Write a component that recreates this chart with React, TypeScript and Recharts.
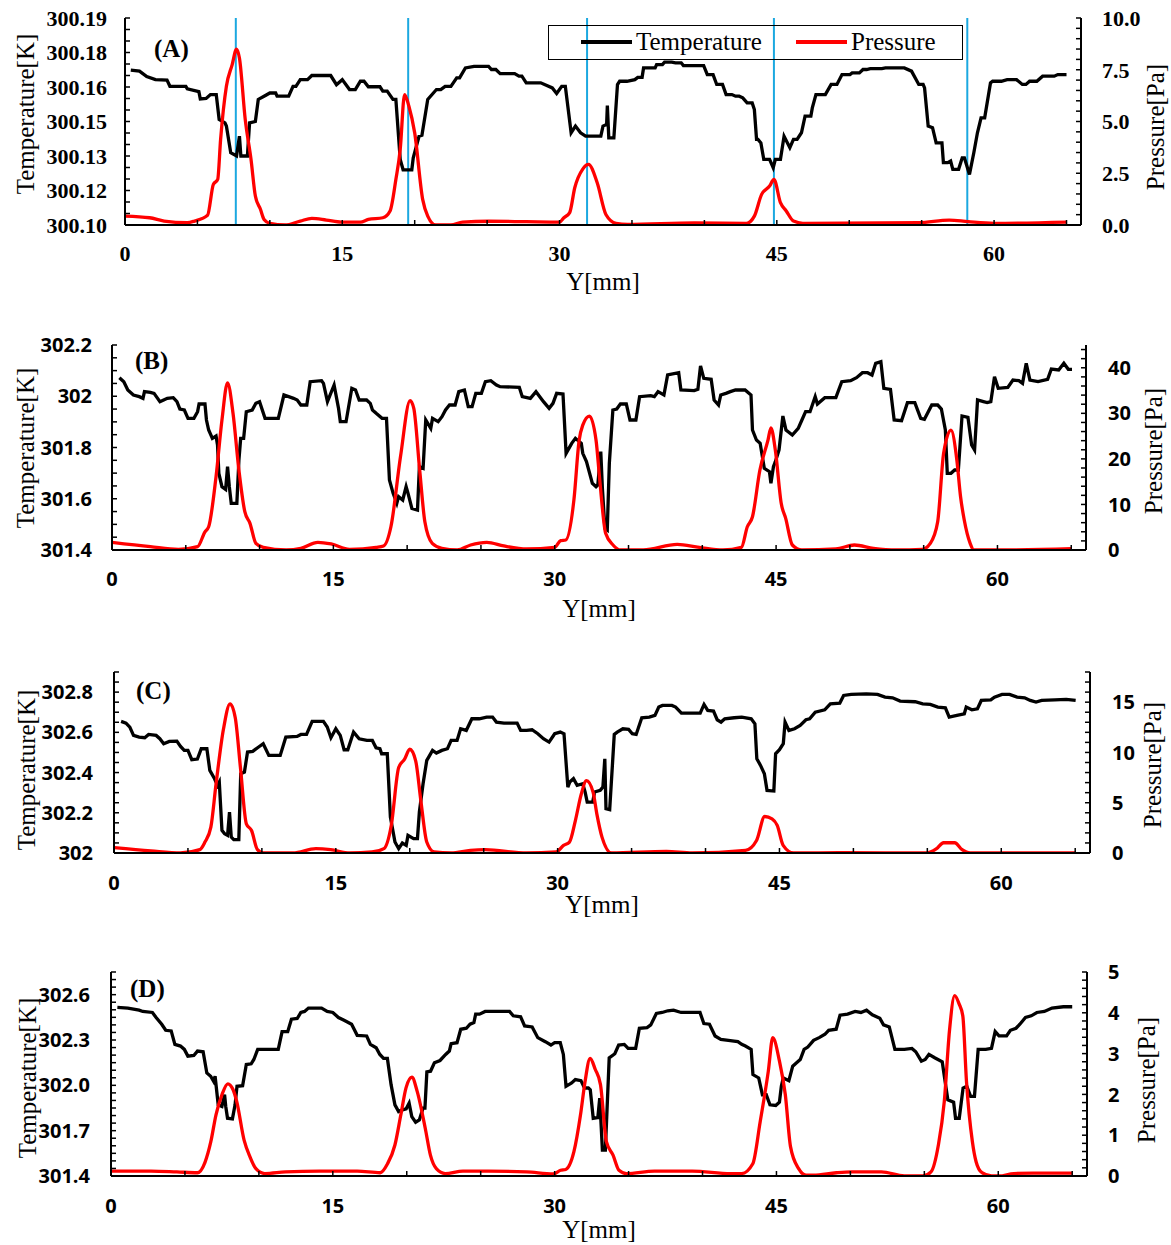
import { ComposedChart, Line, ReferenceLine, XAxis, YAxis } from "recharts";

type P = [number, number];

// Y[mm] position, value
const tempA: P[] = [
  [0.4, 300.1673], [1.0, 300.1669], [1.5, 300.1645], [2.1, 300.1632], [2.9, 300.163], [3.1, 300.1603],
  [4.2, 300.1603], [4.3, 300.1592], [5.1, 300.158], [5.2, 300.1548], [5.6, 300.155], [5.9, 300.1567],
  [6.3, 300.1567], [6.5, 300.1459], [6.9, 300.1444], [7.0, 300.143], [7.3, 300.1314], [7.7, 300.13],
  [7.9, 300.1386], [8.0, 300.13], [8.45, 300.13], [8.6, 300.1444], [9.0, 300.145], [9.2, 300.1546],
  [9.6, 300.156], [10.0, 300.1574], [10.4, 300.1574], [10.5, 300.156], [11.3, 300.156], [11.6, 300.1603],
  [11.8, 300.1603], [12.1, 300.1632], [12.6, 300.1632], [12.9, 300.165], [14.2, 300.165], [14.6, 300.161],
  [15.0, 300.1632], [15.5, 300.1589], [15.9, 300.1589], [16.25, 300.1625], [16.5, 300.1625], [16.8, 300.1601],
  [17.6, 300.1601], [17.8, 300.1582], [18.1, 300.1582], [18.5, 300.1546], [18.7, 300.1546], [19.0, 300.1285],
  [19.2, 300.124], [19.8, 300.124], [19.9, 300.1292], [20.3, 300.1386], [20.5, 300.139], [20.9, 300.1546],
  [21.5, 300.1589], [21.8, 300.1589], [22.1, 300.1603], [22.5, 300.1603], [22.9, 300.164], [23.1, 300.164],
  [23.5, 300.1683], [24.1, 300.169], [25.1, 300.169], [25.3, 300.1676], [25.6, 300.1676], [25.9, 300.1658],
  [26.9, 300.1658], [27.2, 300.1647], [27.4, 300.1647], [27.7, 300.1618], [28.7, 300.1618], [29.5, 300.1596],
  [29.8, 300.1572], [30.15, 300.1603], [30.4, 300.1603], [30.8, 300.1401], [31.1, 300.143], [31.45, 300.1401],
  [31.8, 300.1386], [32.85, 300.1386], [33.0, 300.143], [33.25, 300.1437], [33.3, 300.1519], [33.4, 300.1379],
  [33.75, 300.1379], [34.0, 300.1611], [34.15, 300.1625], [34.65, 300.1625], [35.2, 300.1632], [35.4, 300.1642],
  [35.7, 300.1642], [35.8, 300.1683], [36.6, 300.1683], [36.7, 300.1697], [37.1, 300.1697], [37.25, 300.1708],
  [37.75, 300.1708], [38.0, 300.1705], [38.4, 300.1705], [38.55, 300.1693], [39.95, 300.1693], [40.2, 300.1654],
  [40.6, 300.1654], [40.85, 300.1611], [41.25, 300.1611], [41.5, 300.1567], [41.9, 300.1567], [42.15, 300.156],
  [42.4, 300.156], [42.65, 300.1553], [42.95, 300.1531], [43.3, 300.1531], [43.45, 300.1502], [43.6, 300.1372],
  [43.7, 300.1372], [43.9, 300.1357], [44.1, 300.1285], [44.5, 300.1285], [44.75, 300.1249], [44.9, 300.1285],
  [45.25, 300.1285], [45.5, 300.1386], [45.9, 300.1336], [46.15, 300.1372], [46.4, 300.1372], [46.7, 300.1401],
  [46.95, 300.1473], [47.35, 300.1473], [47.45, 300.1509], [47.7, 300.1567], [48.35, 300.1567], [48.75, 300.1611],
  [49.15, 300.1611], [49.5, 300.1654], [50.05, 300.1654], [50.2, 300.1661], [50.7, 300.1661], [50.95, 300.1676],
  [51.2, 300.1676], [51.45, 300.168], [52.25, 300.168], [52.5, 300.1683], [53.8, 300.1683], [54.3, 300.1669],
  [54.8, 300.1611], [55.1, 300.1611], [55.2, 300.1596], [55.45, 300.143], [55.75, 300.1423], [56.0, 300.1357],
  [56.4, 300.1357], [56.5, 300.1271], [56.8, 300.1271], [57.0, 300.1278], [57.15, 300.1242], [57.55, 300.1242],
  [57.8, 300.1292], [57.95, 300.1292], [58.3, 300.122], [58.6, 300.1314], [58.85, 300.1401], [59.1, 300.1466],
  [59.35, 300.1466], [59.75, 300.1618], [59.9, 300.1625], [60.5, 300.1625], [60.9, 300.1632], [61.55, 300.1632],
  [61.95, 300.1611], [62.2, 300.1611], [62.45, 300.1625], [62.95, 300.1625], [63.35, 300.1647], [64.15, 300.1647],
  [64.4, 300.1654], [65.0, 300.1654],
];
const presA: P[] = [
  [0, 0.43], [1.7, 0.35], [2.7, 0.19], [4.3, 0.11], [4.8, 0.19], [5.7, 0.47], [6.1, 1.96], [6.4, 2.2],
  [6.6, 4.13], [7.0, 6.7], [7.4, 7.75], [7.7, 8.5], [7.9, 8.07], [8.3, 5.1], [8.7, 3.17], [9.0, 1.4],
  [9.35, 0.76], [9.6, 0.27], [10.0, 0.08], [11.05, 0.0], [12.1, 0.19], [12.9, 0.32], [13.9, 0.24], [14.95, 0.14],
  [16.25, 0.14], [16.8, 0.27], [17.8, 0.35], [18.3, 0.68], [18.7, 2.2], [19.0, 3.65], [19.3, 6.3], [19.6, 5.74],
  [20.0, 4.45], [20.55, 1.24], [20.9, 0.43], [21.45, 0.0], [22.5, 0.0], [23.3, 0.14], [25.1, 0.18], [27.7, 0.16],
  [30.0, 0.14], [30.3, 0.35], [30.7, 0.6], [31.05, 1.8], [31.6, 2.7], [32.0, 2.93], [32.6, 2.04], [33.2, 0.51],
  [33.9, 0.08], [34.7, 0.03], [39.3, 0.1], [42.9, 0.08], [43.45, 0.43], [43.95, 1.48], [44.5, 1.88], [44.8, 2.2],
  [45.25, 1.08], [45.65, 0.68], [46.15, 0.19], [46.8, 0.08], [54.8, 0.11], [56.9, 0.24], [58.2, 0.16], [60.0, 0.08],
  [65.0, 0.14],
];
const sectionsA = [7.65, 19.55, 31.9, 44.8, 58.15];

const tempB: P[] = [
  [0.5, 302.0725], [0.8, 302.0569], [1.07, 302.0244], [1.45, 302.0049], [1.85, 301.9984], [2.1, 301.9919],
  [2.2, 302.0179], [2.6, 302.0153], [2.85, 302.0114], [3.25, 301.9789], [3.5, 301.9854], [3.75, 301.9919],
  [4.15, 301.9945], [4.4, 301.9789], [4.6, 301.9502], [4.9, 301.9463], [5.15, 301.9138], [5.55, 301.9138],
  [5.8, 301.9398], [5.9, 301.9698], [6.3, 301.9698], [6.4, 301.9073], [6.55, 301.8683], [6.8, 301.8358],
  [7.05, 301.8449], [7.15, 301.8098], [7.24, 301.6992], [7.45, 301.6472], [7.7, 301.6367], [7.83, 301.7252],
  [7.95, 301.6472], [8.08, 301.5821], [8.46, 301.5821], [8.6, 301.7512], [8.72, 301.8358], [8.92, 301.8358],
  [9.1, 301.9398], [9.5, 301.9463], [9.75, 301.9724], [10.0, 301.9789], [10.37, 301.9138], [11.27, 301.9138],
  [11.65, 302.0049], [12.3, 301.9919], [12.55, 301.9854], [12.8, 301.9658], [13.2, 301.9658], [13.43, 302.0569],
  [14.2, 302.0608], [14.33, 302.0504], [14.6, 301.9789], [15.05, 302.0439], [15.35, 301.9528], [15.47, 301.9008],
  [15.86, 301.9008], [16.25, 302.0309], [16.5, 302.0244], [16.75, 301.9854], [17.25, 301.9854], [17.5, 301.9724],
  [17.65, 301.9463], [17.9, 301.9333], [18.3, 301.9138], [18.6, 301.9138], [18.8, 301.6732], [19.05, 301.6211],
  [19.3, 301.5821], [19.42, 301.6081], [19.7, 301.5951], [19.93, 301.6472], [20.06, 301.6211], [20.32, 301.5626],
  [20.7, 301.5561], [20.83, 301.7252], [21.08, 301.7187], [21.26, 301.9073], [21.6, 301.8748], [21.72, 301.9138],
  [22.1, 301.9008], [22.36, 301.9203], [22.6, 301.9463], [22.87, 301.9658], [23.25, 301.9658], [23.5, 302.0179],
  [23.88, 302.0244], [24.14, 301.9593], [24.4, 301.9593], [24.65, 302.0114], [25.03, 302.0114], [25.3, 302.0569],
  [25.67, 302.0608], [26.05, 302.0439], [26.3, 302.0374], [27.6, 302.0348], [27.8, 301.9984], [28.35, 301.9919],
  [28.73, 302.0179], [29.24, 301.9789], [29.62, 301.9528], [29.88, 301.9724], [30.13, 302.0114], [30.56, 302.0088],
  [30.77, 301.7772], [31.15, 301.8163], [31.4, 301.8358], [31.8, 301.8163], [31.9, 301.7772], [32.15, 301.7447],
  [32.55, 301.6602], [32.8, 301.6472], [32.92, 301.6537], [33.12, 301.7837], [33.23, 301.6407], [33.4, 301.4846],
  [33.56, 301.478], [33.7, 301.7382], [33.94, 301.9463], [34.2, 301.9502], [34.45, 301.9698], [34.85, 301.9698],
  [35.1, 301.9073], [35.5, 301.9073], [35.75, 301.9984], [36.5, 302.0023], [36.75, 301.9984], [37.0, 302.0179],
  [37.4, 302.0049], [37.65, 302.0829], [38.4, 302.092], [38.55, 302.0244], [39.45, 302.0218], [39.7, 302.027],
  [39.88, 302.118], [40.1, 302.0699], [40.6, 302.066], [40.8, 301.9854], [41.1, 301.9658], [41.25, 302.0049],
  [41.6, 302.0114], [41.9, 302.0179], [42.25, 302.0244], [42.9, 302.0244], [43.3, 302.0049], [43.4, 301.8683],
  [43.67, 301.8293], [43.92, 301.8163], [44.2, 301.7187], [44.55, 301.7057], [44.65, 301.6602], [44.82, 301.7252],
  [44.95, 301.7447], [45.2, 301.7902], [45.46, 301.9229], [45.67, 301.8683], [46.1, 301.8488], [46.5, 301.8748],
  [46.75, 301.9073], [47.0, 301.9398], [47.3, 301.9398], [47.65, 301.9984], [47.8, 301.9698], [48.3, 301.9945],
  [49.05, 301.9945], [49.45, 302.0569], [50.05, 302.0608], [50.45, 302.0725], [50.85, 302.092], [51.2, 302.092],
  [51.5, 302.0829], [51.75, 302.1285], [52.1, 302.135], [52.3, 302.0309], [52.75, 302.027], [53.0, 301.9073],
  [53.5, 301.9047], [53.9, 301.975], [54.4, 301.975], [54.8, 301.9138], [55.05, 301.9099], [55.55, 301.9658],
  [55.95, 301.9658], [56.2, 301.9502], [56.47, 301.8683], [56.6, 301.6992], [56.85, 301.6992], [57.1, 301.7122],
  [57.35, 301.7122], [57.6, 301.9229], [58.0, 301.9177], [58.25, 301.8098], [58.45, 301.7902], [58.65, 301.9854],
  [59.05, 301.9789], [59.3, 301.975], [59.55, 301.9789], [59.8, 302.0764], [60.05, 302.0309], [60.7, 302.0348],
  [61.05, 302.0634], [61.45, 302.0608], [61.7, 302.0504], [61.95, 302.1285], [62.2, 302.0634], [62.75, 302.0569],
  [63.4, 302.066], [63.65, 302.1063], [64.15, 302.1024], [64.5, 302.1285], [64.8, 302.105], [65.05, 302.105],
];
const presB: P[] = [
  [0, 1.68], [2.6, 0.73], [4.5, 0.15], [5.8, 0.73], [6.3, 4.0], [6.55, 5.1], [7.05, 16.1], [7.45, 28.5],
  [7.83, 36.7], [8.2, 30.0], [8.6, 17.5], [9.0, 8.4], [9.35, 5.85], [9.75, 1.46], [10.25, 0.58], [11.8, 0.0],
  [12.8, 0.37], [13.95, 1.68], [14.85, 1.32], [16.1, 0.15], [17.9, 0.58], [18.4, 0.88], [18.9, 5.1], [19.55, 20.5],
  [20.2, 32.8], [20.45, 31.1], [20.85, 17.5], [21.2, 6.2], [21.7, 1.46], [22.35, 0.37], [23.4, 0.0], [24.3, 1.1],
  [25.4, 1.68], [26.55, 0.88], [28.1, 0.22], [30.0, 0.58], [30.4, 2.05], [30.75, 2.2], [31.3, 11.0], [31.65, 24.0],
  [31.9, 27.4], [32.35, 29.4], [32.8, 24.1], [33.05, 15.4], [33.45, 3.66], [33.95, 1.1], [34.45, 0.0], [36.0, 0.0],
  [38.3, 1.24], [39.8, 0.58], [41.4, 0.0], [42.65, 0.58], [43.05, 5.1], [43.4, 7.3], [43.9, 17.5], [44.45, 24.1],
  [44.65, 26.8], [44.95, 21.9], [45.35, 10.2], [45.65, 6.95], [46.1, 1.1], [46.75, 0.0], [49.05, 0.22], [50.3, 1.1],
  [51.6, 0.37], [53.15, 0.0], [54.9, 0.15], [55.45, 1.46], [55.95, 6.2], [56.35, 21.2], [56.85, 26.3], [57.25, 19.7],
  [57.5, 11.7], [57.75, 6.58], [58.15, 1.46], [58.4, 0.0], [59.8, 0.0], [65.05, 0.29],
];

const tempC: P[] = [
  [0.48, 302.6542], [0.81, 302.646], [1.07, 302.6261], [1.32, 302.5847], [1.7, 302.5764], [2.08, 302.5731],
  [2.34, 302.5896], [2.85, 302.5847], [3.1, 302.5681], [3.36, 302.5433], [3.74, 302.5549], [4.25, 302.5565],
  [4.5, 302.53], [4.75, 302.5101], [5.0, 302.5101], [5.26, 302.4638], [5.64, 302.4671], [5.9, 302.5184],
  [6.28, 302.5184], [6.48, 302.4108], [6.8, 302.3694], [7.0, 302.3362], [7.12, 302.3528], [7.3, 302.1126],
  [7.48, 302.0961], [7.68, 302.0878], [7.81, 302.2037], [7.93, 302.0795], [8.1, 302.0663], [8.44, 302.0663],
  [8.57, 302.3942], [8.82, 302.4025], [9.03, 302.5018], [9.38, 302.5052], [9.71, 302.5234], [10.09, 302.5433],
  [10.47, 302.4853], [11.24, 302.4853], [11.62, 302.5764], [12.38, 302.5797], [12.64, 302.5896], [13.02, 302.5896],
  [13.4, 302.6542], [14.16, 302.6542], [14.42, 302.6261], [14.67, 302.5731], [15.0, 302.6178], [15.3, 302.5847],
  [15.56, 302.5135], [15.81, 302.5135], [16.2, 302.6012], [16.58, 302.5681], [17.1, 302.5598], [17.47, 302.5598],
  [17.72, 302.5234], [17.98, 302.5184], [18.1, 302.4936], [18.48, 302.4936], [18.69, 302.1789], [19.0, 302.0547],
  [19.25, 302.0215], [19.5, 302.0497], [19.76, 302.0381], [19.88, 302.0878], [20.26, 302.0712], [20.52, 302.0712],
  [20.65, 302.2037], [20.9, 302.3445], [21.15, 302.4605], [21.28, 302.477], [21.54, 302.5101], [21.8, 302.4969],
  [22.17, 302.5101], [22.55, 302.5184], [22.8, 302.5598], [23.2, 302.5598], [23.44, 302.6178], [23.82, 302.6095],
  [24.2, 302.6675], [24.7, 302.6675], [25.2, 302.6758], [25.6, 302.6758], [25.86, 302.6509], [26.37, 302.646],
  [27.26, 302.646], [27.5, 302.6095], [27.9, 302.6095], [28.27, 302.6128], [28.66, 302.593], [29.04, 302.5681],
  [29.42, 302.5515], [29.8, 302.593], [30.18, 302.6012], [30.43, 302.593], [30.69, 302.3279], [30.82, 302.3528],
  [31.07, 302.3694], [31.32, 302.3362], [31.7, 302.3445], [31.86, 302.3031], [32.0, 302.2534], [32.37, 302.2534],
  [32.5, 302.3031], [32.88, 302.3114], [33.06, 302.3279], [33.19, 302.4687], [33.27, 302.2203], [33.52, 302.2153],
  [33.83, 302.5896], [34.03, 302.6012], [34.41, 302.6178], [34.8, 302.6145], [35.05, 302.593], [35.31, 302.5896],
  [35.69, 302.6725], [36.2, 302.6758], [36.58, 302.6841], [36.84, 302.7254], [37.09, 302.7337], [37.73, 302.7337],
  [37.98, 302.7254], [38.37, 302.6956], [39.64, 302.6956], [39.9, 302.7387], [40.15, 302.7089], [40.54, 302.7056],
  [40.79, 302.6625], [41.05, 302.6509], [41.3, 302.6675], [41.94, 302.6725], [42.45, 302.6758], [43.09, 302.6675],
  [43.34, 302.6426], [43.47, 302.4687], [43.72, 302.4356], [43.98, 302.3942], [44.16, 302.3114], [44.62, 302.3081],
  [44.74, 302.4936], [45.0, 302.5135], [45.26, 302.5433], [45.38, 302.6509], [45.64, 302.6095], [46.02, 302.6178],
  [46.4, 302.6344], [46.79, 302.6625], [47.04, 302.6675], [47.42, 302.7006], [48.06, 302.7122], [48.44, 302.742],
  [49.08, 302.7453], [49.34, 302.7834], [49.85, 302.7884], [50.87, 302.7917], [51.63, 302.7884], [52.14, 302.7751],
  [52.65, 302.7718], [53.16, 302.7553], [54.18, 302.752], [54.69, 302.742], [55.2, 302.7387], [55.71, 302.7254],
  [56.22, 302.7221], [56.48, 302.6758], [57.0, 302.6841], [57.5, 302.6923], [57.63, 302.7254], [58.01, 302.7122],
  [58.39, 302.7172], [58.65, 302.7586], [59.29, 302.7619], [59.54, 302.7751], [60.05, 302.7884], [60.56, 302.7884],
  [61.07, 302.7751], [61.58, 302.7718], [61.96, 302.7586], [62.35, 302.7503], [62.73, 302.7586], [63.62, 302.7619],
  [64.39, 302.7636], [65.03, 302.7586],
];
const presC: P[] = [
  [0, 0.53], [2.5, 0.2], [4.5, 0.0], [5.8, 0.33], [6.15, 1.09], [6.55, 2.57], [6.9, 6.86], [7.4, 12.3],
  [7.85, 14.84], [8.2, 13.45], [8.55, 8.5], [8.95, 2.9], [9.3, 2.24], [9.7, 0.33], [10.1, 0.0], [12.1, 0.0],
  [13.65, 0.43], [14.65, 0.33], [15.95, 0.0], [17.45, 0.1], [18.25, 0.43], [18.75, 2.74], [19.25, 8.5], [19.65, 9.33],
  [20.0, 10.32], [20.4, 9.17], [20.75, 5.2], [21.15, 1.09], [21.65, 0.1], [22.8, 0.0], [24.1, 0.26], [25.1, 0.33],
  [27.9, 0.0], [29.9, 0.1], [30.4, 0.76], [30.8, 1.09], [31.2, 3.23], [31.6, 5.87], [31.95, 7.19], [32.4, 6.03],
  [32.65, 3.89], [33.0, 1.58], [33.65, 0.0], [37.35, 0.16], [39.1, 0.0], [42.7, 0.26], [43.45, 1.25], [44.0, 3.63],
  [44.5, 3.4], [44.85, 2.74], [45.25, 0.76], [45.95, 0.0], [49.35, 0.03], [54.95, 0.0], [55.6, 0.4], [56.1, 1.02],
  [56.85, 1.02], [57.35, 0.33], [57.9, 0.0], [65.0, 0.0],
];

const tempD: P[] = [
  [0.43, 302.5156], [1.14, 302.5111], [1.9, 302.4978], [2.15, 302.4889], [2.8, 302.4822], [3.05, 302.4489],
  [3.43, 302.4044], [3.7, 302.3644], [4.07, 302.36], [4.32, 302.2711], [4.7, 302.26], [4.96, 302.2378],
  [5.2, 302.1933], [5.6, 302.1978], [5.85, 302.2267], [6.23, 302.2222], [6.48, 302.0822], [6.74, 302.06],
  [6.94, 302.0267], [7.04, 302.06], [7.25, 301.8711], [7.5, 301.86], [7.68, 301.9378], [7.76, 301.86],
  [7.88, 301.7822], [8.21, 301.7778], [8.39, 301.8711], [8.52, 301.9933], [8.9, 301.9978], [9.15, 302.1378],
  [9.48, 302.1422], [9.66, 302.1711], [9.92, 302.2378], [11.31, 302.2378], [11.57, 302.3556], [11.95, 302.3556],
  [12.2, 302.4378], [12.59, 302.4422], [12.84, 302.4822], [13.09, 302.4889], [13.35, 302.5111], [14.24, 302.5111],
  [14.62, 302.4889], [15.0, 302.4822], [15.38, 302.4489], [15.76, 302.4311], [16.27, 302.4044], [16.65, 302.3311],
  [17.29, 302.3267], [17.54, 302.2711], [17.93, 302.2489], [18.18, 302.2044], [18.43, 302.1778], [18.69, 302.1778],
  [18.94, 302.0044], [19.2, 301.8711], [19.45, 301.8267], [19.71, 301.8378], [19.96, 301.8444], [20.16, 301.8822],
  [20.34, 301.7933], [20.6, 301.7556], [20.85, 301.7711], [21.1, 301.8489], [21.23, 301.8489], [21.36, 302.0889],
  [21.61, 302.0933], [21.87, 302.1489], [22.25, 302.1644], [22.63, 302.2044], [22.88, 302.2267], [23.0, 302.2756],
  [23.4, 302.2822], [23.65, 302.3711], [24.03, 302.3778], [24.28, 302.4044], [24.54, 302.4156], [24.66, 302.4711],
  [24.92, 302.4711], [25.3, 302.4889], [26.95, 302.4889], [27.2, 302.46], [27.7, 302.4533], [27.97, 302.3933],
  [28.48, 302.3867], [28.86, 302.3156], [29.37, 302.2889], [29.75, 302.2667], [30.0, 302.2822], [30.38, 302.2822],
  [30.59, 302.2044], [30.77, 301.9933], [31.15, 302.0156], [31.4, 302.0378], [31.78, 302.0311], [32.02, 301.9822],
  [32.28, 301.9822], [32.41, 301.9711], [32.61, 301.7822], [32.92, 301.7867], [33.05, 301.9156], [33.23, 301.5711],
  [33.43, 301.5711], [33.69, 302.1822], [34.07, 302.2089], [34.33, 302.2667], [34.71, 302.2711], [34.97, 302.2444],
  [35.48, 302.2444], [35.73, 302.3778], [36.25, 302.3822], [36.5, 302.4], [36.88, 302.4756], [37.27, 302.4822],
  [37.65, 302.4933], [38.04, 302.4978], [38.55, 302.4822], [39.83, 302.4822], [40.09, 302.4089], [40.47, 302.4044],
  [40.85, 302.3267], [41.24, 302.3044], [41.75, 302.2978], [42.13, 302.2933], [42.39, 302.2889], [42.65, 302.2711],
  [42.9, 302.26], [43.29, 302.2378], [43.41, 302.0711], [43.8, 302.0489], [44.05, 301.9378], [44.31, 301.9378],
  [44.56, 301.8711], [44.95, 301.8667], [45.2, 301.8889], [45.33, 301.9933], [45.46, 302.0489], [45.84, 302.0311],
  [46.1, 302.1267], [46.36, 302.1489], [46.61, 302.1711], [46.87, 302.2378], [47.12, 302.2533], [47.51, 302.2978],
  [47.89, 302.3156], [48.28, 302.3378], [48.53, 302.3644], [49.04, 302.3711], [49.3, 302.4644], [49.81, 302.4711],
  [50.32, 302.4889], [50.71, 302.4822], [51.09, 302.4978], [51.48, 302.4667], [51.99, 302.4444], [52.24, 302.4],
  [52.63, 302.3867], [53.01, 302.2378], [53.65, 302.2378], [54.16, 302.2444], [54.42, 302.2222], [54.8, 302.16],
  [55.06, 302.1711], [55.31, 302.2044], [55.7, 302.1822], [56.21, 302.1556], [56.47, 301.9822], [56.59, 301.9044],
  [56.98, 301.8889], [57.11, 301.7822], [57.36, 301.7822], [57.62, 301.9822], [57.87, 301.9933], [58.13, 301.9267],
  [58.39, 301.9267], [58.64, 302.2378], [59.15, 302.2378], [59.54, 302.2444], [59.79, 302.3556], [60.05, 302.3267],
  [60.56, 302.3267], [60.82, 302.3644], [61.2, 302.3778], [61.46, 302.4044], [61.84, 302.4489], [62.23, 302.46],
  [62.61, 302.4822], [63.12, 302.4889], [63.63, 302.5111], [64.4, 302.52], [65.0, 302.52],
];
const presD: P[] = [
  [0, 0.12], [2.7, 0.12], [4.45, 0.1], [5.85, 0.08], [6.35, 0.33], [6.75, 0.84], [7.1, 1.5], [7.5, 1.99],
  [7.9, 2.26], [8.25, 2.12], [8.5, 1.83], [9.0, 0.88], [9.4, 0.47], [9.8, 0.18], [10.4, 0.06], [11.8, 0.1],
  [14.1, 0.12], [16.65, 0.12], [18.2, 0.08], [18.7, 0.3], [19.2, 0.76], [19.6, 1.5], [19.95, 2.16], [20.35, 2.42],
  [20.7, 2.08], [21.25, 1.17], [21.6, 0.51], [22.0, 0.18], [22.6, 0.06], [23.8, 0.12], [25.5, 0.12], [28.1, 0.1],
  [29.9, 0.05], [30.4, 0.14], [30.75, 0.16], [31.3, 0.59], [31.75, 1.5], [32.05, 2.3], [32.4, 2.88], [32.75, 2.61],
  [33.1, 2.24], [33.5, 0.84], [33.95, 0.51], [34.35, 0.14], [34.85, 0.06], [36.75, 0.12], [39.3, 0.12], [41.9, 0.06],
  [42.65, 0.06], [43.4, 0.3], [43.9, 1.33], [44.45, 2.57], [44.75, 3.39], [45.2, 2.82], [45.6, 1.99], [45.95, 0.72],
  [46.5, 0.18], [47.0, 0.02], [47.5, 0.02], [49.05, 0.08], [50.1, 0.1], [52.1, 0.1], [53.65, 0.0], [54.9, 0.0],
  [55.45, 0.1], [55.95, 0.76], [56.35, 1.83], [56.7, 3.56], [57.05, 4.42], [57.35, 4.22], [57.6, 3.93], [57.85, 2.32],
  [58.25, 0.84], [58.5, 0.35], [58.9, 0.08], [59.55, 0.0], [60.05, 0.0], [61.05, 0.06], [62.35, 0.07], [65.0, 0.07],
];

const xLabels = [0, 15, 30, 45, 60];
const tMajA = [300.1, 300.115, 300.13, 300.145, 300.16, 300.175, 300.19];
const tLabA = ["300.10", "300.12", "300.13", "300.15", "300.16", "300.18", "300.19"];
const pMajA = [0, 2.5, 5, 7.5, 10];
const pLabA = ["0.0", "2.5", "5.0", "7.5", "10.0"];
const tMajB = [301.4, 301.6, 301.8, 302, 302.2];
const tLabB = ["301.4", "301.6", "301.8", "302", "302.2"];
const pMajB = [0, 10, 20, 30, 40];
const pLabB = ["0", "10", "20", "30", "40"];
const tMajC = [302, 302.2, 302.4, 302.6, 302.8];
const tLabC = ["302", "302.2", "302.4", "302.6", "302.8"];
const pMajC = [0, 5, 10, 15];
const pLabC = ["0", "5", "10", "15"];
const tMajD = [301.4, 301.7, 302.0, 302.3, 302.6];
const tLabD = ["301.4", "301.7", "302.0", "302.3", "302.6"];
const pMajD = [0, 1, 2, 3, 4, 5];
const pLabD = ["0", "1", "2", "3", "4", "5"];

const W = 1171;
const serif = "'Liberation Serif', 'Times New Roman', serif";
const sans = "'Open Sans', Arial, sans-serif";
const AX = { stroke: "#000", strokeWidth: 2 };
const TL = { stroke: "#000", strokeWidth: 1.5 };
const TS = 5;

const steps = (a: number, b: number, s: number) => {
  const out: number[] = [];
  for (let i = 0; a + i * s <= b + 1e-9; i++) out.push(+(a + i * s).toFixed(6));
  return out;
};
const fmt = (maj: number[], lab: string[]) => (v: number) => {
  const i = maj.findIndex((m) => Math.abs(m - v) < 1e-6);
  return i < 0 ? "" : lab[i];
};
const pts = (d: P[]) => d.map(([x, v]) => ({ x, v }));

type Cfg = {
  top: number; h: number; pt: number; pb: number; l: number; r: number;
  temp: P[]; pres: P[];
  tDom: [number, number]; tStep: number; tMaj: number[]; tLab: string[];
  pDom: [number, number]; pStep: number; pMaj: number[]; pLab: string[];
  font: string; fs: number;
  gl: number; gr: number; gb: number;
  tag: string; tagBase: number; tagX: number;
  tTitle: [number, number]; pTitle: [number, number]; xTitleY: number;
  sections?: number[];
};

const vText = (s: string, x: number, y: number) => () => (
  <text x={x} y={y} transform={`rotate(-90 ${x} ${y})`} textAnchor="middle" dominantBaseline="central"
    fontFamily={serif} fontSize={25} fill="#000">{s}</text>
);

function Panel({ c, legend }: { c: Cfg; legend?: boolean }) {
  const tick = { fill: "#000", fontWeight: 700, fontFamily: c.font, fontSize: c.fs };
  return (
    <div style={{ position: "absolute", left: 0, top: c.top, width: W, height: c.h }}>
      <ComposedChart width={W} height={c.h} margin={{ top: c.pt, right: 0, bottom: 0, left: 0 }}>
        <XAxis xAxisId="b" type="number" dataKey="x" domain={[0, 66]} allowDataOverflow
          ticks={steps(0, 65, 5)} interval={0}
          tickFormatter={(v: number) => (xLabels.includes(v) ? String(v) : "")}
          height={c.h - c.pb} tickSize={-TS} tickMargin={c.gb + TS}
          axisLine={AX} tickLine={TL} tick={tick}
          label={{ content: () => (
            <text x={(c.l + c.r) / 2} y={c.xTitleY} textAnchor="middle" fontFamily={serif} fontSize={25} fill="#000">Y[mm]</text>
          ) }} />
        <XAxis xAxisId="top" orientation="top" type="number" domain={[0, 66]} height={0}
          tick={false} tickLine={false} axisLine={AX} />
        <YAxis yAxisId="t" type="number" domain={c.tDom} allowDataOverflow
          ticks={steps(c.tDom[0], c.tDom[1], c.tStep)} interval={0} tickFormatter={fmt(c.tMaj, c.tLab)}
          width={c.l} tickSize={-TS} tickMargin={c.gl + TS} axisLine={AX} tickLine={TL} tick={tick}
          label={{ content: vText("Temperature[K]", c.tTitle[0], c.tTitle[1]) }} />
        <YAxis yAxisId="p" orientation="right" type="number" domain={c.pDom} allowDataOverflow
          ticks={steps(c.pDom[0], c.pDom[1], c.pStep)} interval={0} tickFormatter={fmt(c.pMaj, c.pLab)}
          width={W - c.r} tickSize={-TS} tickMargin={c.gr + TS} axisLine={AX} tickLine={TL} tick={tick}
          label={{ content: vText("Pressure[Pa]", c.pTitle[0], c.pTitle[1]) }} />
        {(c.sections || []).map((s) => (
          <ReferenceLine key={s} xAxisId="b" yAxisId="t" x={s} stroke="#1ba8e0" strokeWidth={2} />
        ))}
        <Line xAxisId="b" yAxisId="t" data={pts(c.temp)} dataKey="v" name="Temperature" type="linear"
          stroke="#000" strokeWidth={3.3} dot={false} isAnimationActive={false} />
        <Line xAxisId="b" yAxisId="p" data={pts(c.pres)} dataKey="v" name="Pressure" type="monotone"
          stroke="#ff0000" strokeWidth={3.3} dot={false} isAnimationActive={false} />
      </ComposedChart>
      <div style={{ position: "absolute", left: c.tagX, top: c.tagBase - 21, fontFamily: serif, fontWeight: 700,
        fontSize: 25, lineHeight: "25px", color: "#000", whiteSpace: "nowrap" }}>{c.tag}</div>
      {legend && (
        <div style={{ position: "absolute", left: 548, top: 25, width: 415, height: 35, border: "1.5px solid #000",
          boxSizing: "border-box", fontFamily: serif, fontSize: 25, lineHeight: "25px", color: "#000" }}>
          <span style={{ position: "absolute", left: 32, top: 14, width: 51, height: 4, background: "#000" }} />
          <span style={{ position: "absolute", left: 87, top: 3 }}>Temperature</span>
          <span style={{ position: "absolute", left: 247, top: 14, width: 51, height: 4, background: "#ff0000" }} />
          <span style={{ position: "absolute", left: 302, top: 3 }}>Pressure</span>
        </div>
      )}
    </div>
  );
}

const panelA: Cfg = {
  top: 0, h: 300, pt: 18, pb: 225, l: 125, r: 1081, temp: tempA, pres: presA,
  tDom: [300.1, 300.19], tStep: 0.005, tMaj: tMajA, tLab: tLabA,
  pDom: [0, 10], pStep: 0.5, pMaj: pMajA, pLab: pLabA,
  font: serif, fs: 22, gl: 18, gr: 21, gb: 20,
  tag: "(A)", tagBase: 57, tagX: 154, tTitle: [25, 114], pTitle: [1155, 127], xTitleY: 290,
  sections: sectionsA,
};
const panelB: Cfg = {
  top: 325, h: 300, pt: 20, pb: 225, l: 112, r: 1086, temp: tempB, pres: presB,
  tDom: [301.4, 302.2], tStep: 0.05, tMaj: tMajB, tLab: tLabB,
  pDom: [0, 45], pStep: 2, pMaj: pMajB, pLab: pLabB,
  font: sans, fs: 20, gl: 20, gr: 22, gb: 22,
  tag: "(B)", tagBase: 44, tagX: 135, tTitle: [25, 123], pTitle: [1153, 126], xTitleY: 292,
};
const panelC: Cfg = {
  top: 650, h: 280, pt: 22, pb: 203, l: 114, r: 1090, temp: tempC, pres: presC,
  tDom: [302, 302.9], tStep: 0.05, tMaj: tMajC, tLab: tLabC,
  pDom: [0, 18], pStep: 1, pMaj: pMajC, pLab: pLabC,
  font: sans, fs: 20, gl: 21, gr: 22, gb: 23,
  tag: "(C)", tagBase: 49, tagX: 136, tTitle: [26, 120], pTitle: [1152, 115], xTitleY: 263,
};
const panelD: Cfg = {
  top: 950, h: 295, pt: 22, pb: 226, l: 111, r: 1087, temp: tempD, pres: presD,
  tDom: [301.4, 302.75], tStep: 0.05, tMaj: tMajD, tLab: tLabD,
  pDom: [0, 5], pStep: 0.2, pMaj: pMajD, pLab: pLabD,
  font: sans, fs: 20, gl: 21, gr: 21, gb: 23,
  tag: "(D)", tagBase: 47, tagX: 130, tTitle: [27, 128], pTitle: [1146, 130], xTitleY: 288,
};

export default function App() {
  return (
    <div style={{ position: "absolute", left: 0, top: 0, width: W, height: 1245, background: "#fff" }}>
      <Panel c={panelA} legend />
      <Panel c={panelB} />
      <Panel c={panelC} />
      <Panel c={panelD} />
    </div>
  );
}
